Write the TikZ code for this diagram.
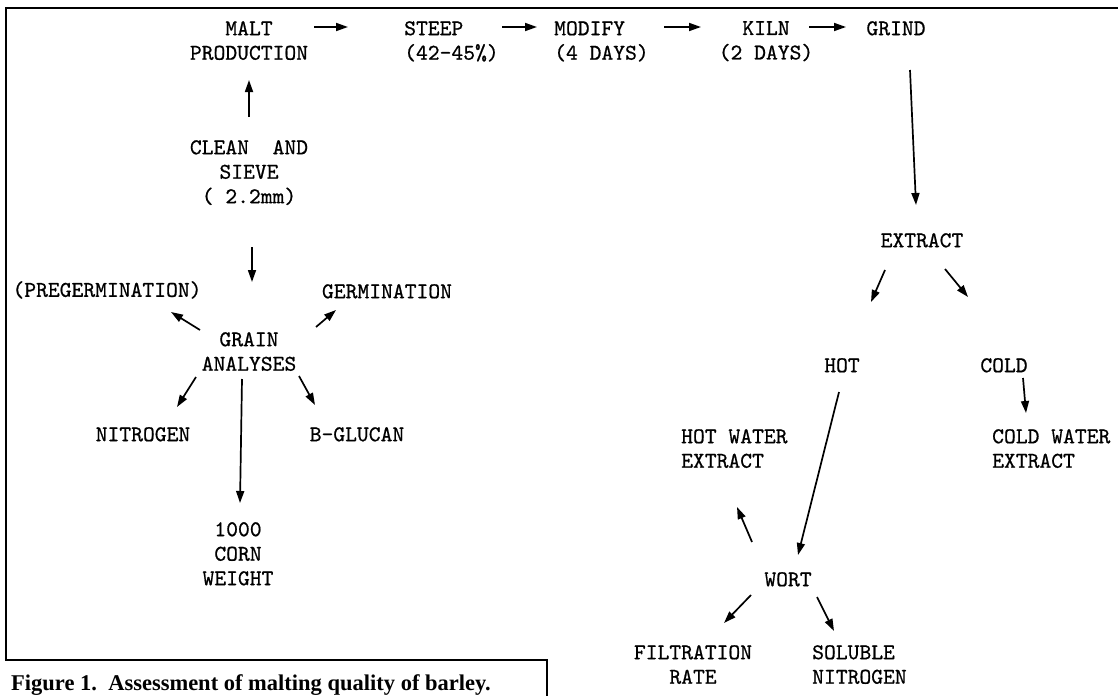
\documentclass[tikz,border=0pt]{standalone}
\usepackage{fontspec}
\newfontfamily\typew[FakeBold=0.7]{lmmono10-regular.otf}
\newfontfamily\capfont{Liberation Serif}
\usepackage{tikz}
\usetikzlibrary{arrows.meta}

\begin{document}
\begin{tikzpicture}[x=1pt, y=-1pt,
    lbl/.style={inner sep=0pt, anchor=north, align=center, font=\typew\fontsize{22.5}{24.5}\selectfont},
    lbll/.style={lbl, anchor=north west, align=left},
    arr/.style={line width=1.7pt, -{Triangle[length=12pt,width=8pt]}},
    frame/.style={line width=1.8pt}]
    \useasboundingbox (0,0) rectangle (1118,696);
    % 边框
    \draw[frame] (1118,8) -- (6,8) -- (6,660) -- (547,660) -- (547,696);
    % 制麦工序
    \node[lbl] (malt) at (249,21) {MALT\\PRODUCTION};
    \node[lbll] (steep) at (404,21) {STEEP\\(42-45\%)};
    \node[lbll] (modify) at (554,21) {MODIFY\\(4 DAYS)};
    \node[lbl] (kiln) at (766,21) {KILN\\(2 DAYS)};
    \node[lbl] (grind) at (896,21) {GRIND};
    \draw[arr] ([shift={(65,6)}]malt.north) -- ([shift={(-56,6)}]steep.north west);
    \draw[arr] ([shift={(98,6)}]steep.north west) -- ([shift={(-17,6)}]modify.north west);
    \draw[arr] ([shift={(110,6)}]modify.north west) -- ([shift={(-65,6)}]kiln.north);
    \draw[arr] ([shift={(43,6)}]kiln.north) -- ([shift={(-50,6)}]grind.north);
    % 大麦分析
    \node[lbl] (clean) at (249,140) {CLEAN\ \ AND\\SIEVE\\( 2.2mm)};
    \node[lbl] (grain) at (249,332) {GRAIN\\ANALYSES};
    \node[lbl] (pregerm) at (107,281) {(PREGERMINATION)};
    \node[lbl] (germ) at (387,284) {GERMINATION};
    \node[lbl] (nitrogen) at (143,427) {NITROGEN};
    \node[lbl] (bglucan) at (357,427) {B-GLUCAN};
    \node[lbl] (corn) at (238,522) {1000\\CORN\\WEIGHT};
    \draw[arr] ([shift={(0,-23)}]clean.north) -- ([shift={(0,59)}]malt.north);
    \draw[arr] ([shift={(3,107)}]clean.north) -- ([shift={(3,-50)}]grain.north);
    \draw[arr] ([shift={(-49,-2)}]grain.north) -- ([shift={(64,31)}]pregerm.north);
    \draw[arr] ([shift={(67,-5)}]grain.north) -- ([shift={(-51,26)}]germ.north);
    \draw[arr] ([shift={(-53,45)}]grain.north) -- ([shift={(34,-20)}]nitrogen.north);
    \draw[arr] ([shift={(-7,47)}]grain.north) -- ([shift={(2,-19)}]corn.north);
    \draw[arr] ([shift={(50,44)}]grain.north) -- ([shift={(-42,-22)}]bglucan.north);
    % 浸出物
    \node[lbl] (extract) at (922,233) {EXTRACT};
    \node[lbl] (hot) at (842,358) {HOT};
    \node[lbl] (cold) at (1004,358) {COLD};
    \node[lbll] (hotwater) at (681,429) {HOT WATER\\EXTRACT};
    \node[lbll] (coldwater) at (992,429) {COLD WATER\\EXTRACT};
    \node[lbl] (wort) at (788,572) {WORT};
    \node[lbl] (filtration) at (693,645) {FILTRATION\\RATE};
    \node[lbll] (soluble) at (812,645) {SOLUBLE\\NITROGEN};
    \draw[arr] ([shift={(14,49)}]grind.north) -- ([shift={(-6,-28)}]extract.north);
    \draw[arr] ([shift={(-37,37)}]extract.north) -- ([shift={(29,-56)}]hot.north);
    \draw[arr] ([shift={(23,36)}]extract.north) -- ([shift={(-36,-61)}]cold.north);
    \draw[arr] ([shift={(19,20)}]cold.north) -- ([shift={(34,-16)}]coldwater.north west);
    \draw[arr] ([shift={(-3,34)}]hot.north) -- ([shift={(10,-17)}]wort.north);
    \draw[arr] ([shift={(-36,-30)}]wort.north) -- ([shift={(56,78)}]hotwater.north west);
    \draw[arr] ([shift={(-37,23)}]wort.north) -- ([shift={(31,-22)}]filtration.north);
    \draw[arr] ([shift={(29,25)}]wort.north) -- ([shift={(22,-14)}]soluble.north west);
    % 图题
    \node[anchor=base west, inner sep=0pt, font=\capfont\bfseries\fontsize{22.5}{26}\selectfont] (caption) at (11,690) {Figure 1.\ \ Assessment of malting quality of barley.};
\end{tikzpicture}
\end{document}
